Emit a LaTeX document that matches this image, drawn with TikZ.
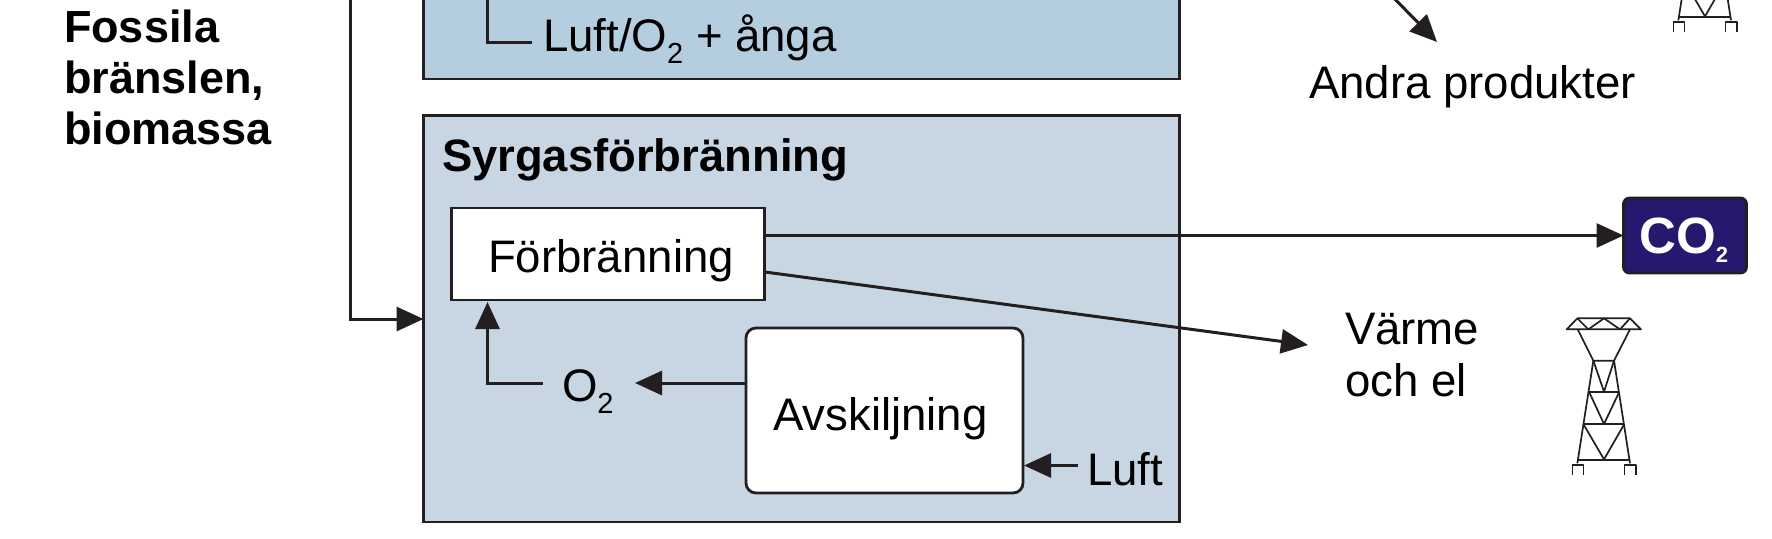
\documentclass[tikz,border=0pt]{standalone}
\usepackage{fontspec}
\setmainfont{Liberation Sans}
\usetikzlibrary{arrows.meta}
\definecolor{ink}{HTML}{231F20}
\definecolor{upperblue}{HTML}{B5CEDF}
\definecolor{lowerblue}{HTML}{C7D6E2}
\definecolor{coblue}{HTML}{27186F}
\newcommand{\subtwo}{\raisebox{-6.2pt}{\fontsize{14.5pt}{14.5pt}\selectfont 2}}
\tikzset{
  txt/.style={inner sep=0pt,outer sep=0pt,anchor=base west,text=black,font=\fontsize{22.8pt}{26pt}\selectfont},
  boldtxt/.style={txt,font=\fontsize{22.7pt}{25.5pt}\selectfont\bfseries},
  panel/.style={draw=ink,line width=1.4pt,inner sep=0pt,outer sep=0pt,anchor=north west},
  whitebox/.style={panel,fill=white},
  conn/.style={draw=ink,line width=1.5pt,-{Triangle[length=13.5pt,width=12pt]}},
  plainline/.style={draw=ink,line width=1.5pt},
  towerline/.style={draw=ink,line width=0.85pt,line join=round},
  tower/.pic={
    \begin{scope}[x=0.16667pt,y=-0.16667pt,towerline]
      \draw (112,55) -- (270,55) -- (303,88) -- (80,88) -- cycle;
      \draw (112,55) -- (145,88) -- (192,55) -- (240,88) -- (270,55);
      \draw (113,88) -- (160,182) -- (222,182) -- (270,88);
      \draw (160,182) -- (112,490);
      \draw (222,182) -- (270,490);
      \draw (147,275) -- (238,275);
      \draw (130,372) -- (253,372);
      \draw (112,480) -- (270,480);
      \draw (160,182) -- (192,275) -- (222,182);
      \draw (147,275) -- (192,372) -- (238,275);
      \draw (130,372) -- (192,478) -- (253,372);
      \draw (97,525) -- (97,495) -- (130,495) -- (130,525);
      \draw (253,525) -- (253,495) -- (287,495) -- (287,525);
    \end{scope}
  }
}
\begin{document}
\begin{tikzpicture}[x=0.5pt,y=-0.5pt]
\useasboundingbox (0,0) rectangle (1772,538);
\clip (0,0) rectangle (1772,538);
\fill[white] (0,0) rectangle (1772,538);

% panels
\node[panel,fill=upperblue,minimum width=378pt,minimum height=49.5pt] (upper) at (423.5,-20) {};
\node[panel,fill=lowerblue,minimum width=378pt,minimum height=203.25pt] (lower) at (423.5,115.5) {};
\node[whitebox,minimum width=156.5pt,minimum height=46pt] (forb) at (451.5,208) {};
\node[whitebox,rounded corners=5pt,minimum width=138.5pt,minimum height=82.5pt] (avsk) at (746,328) {};
\node[panel,fill=coblue,rounded corners=3pt,minimum width=61.5pt,minimum height=37.5pt] (co2box) at (1623.5,198) {};

% labels
\node[boldtxt,align=left,anchor=north west,font=\fontsize{22.5pt}{25.5pt}\selectfont\bfseries] (fossil) at (64,10) {Fossila\\bränslen,\\biomassa};
\node[txt] (luftoa) at (543,51) {Luft/O\subtwo{} + ånga};
\node[boldtxt] (syrgas) at (442,171) {Syrgasförbränning};
\node[txt] (forbtxt) at (488,272) {Förbränning};
\node[txt] (otwo) at (562,401) {O\subtwo};
\node[txt] (avsktxt) at (773,430) {Avskiljning};
\node[txt] (luft) at (1087,485) {Luft};
\node[txt,align=left,anchor=north west] (varme) at (1345,313) {Värme\\och el};
\node[txt] (andra) at (1309,98) {Andra produkter};
\node[inner sep=0pt,anchor=base west,text=white,font=\fontsize{25.5pt}{25.5pt}\selectfont\bfseries] (cotxt) at (1639,253) {CO\raisebox{-4.5pt}{\fontsize{11pt}{11pt}\selectfont 2}};

% free connector ends
\coordinate (feedtop) at (350,-10);
\coordinate (feedmid) at (350,319);
\coordinate (lufttop) at (487.5,-10);
\coordinate (luftend) at (532,42);
\coordinate (heatout) at (765,272);
\coordinate (heattip) at (1308,345);
\coordinate (prodstart) at (1386,-10);
\coordinate (prodtip) at (1437,42);
\coordinate (otwoend) at (543,383);
\coordinate (otwotip) at (635,383);
\coordinate (oupx) at (487.5,383);
\coordinate (oupy) at (487.5,302);
\coordinate (airstart) at (1078,465.5);
\coordinate (airtip) at (1024,465.5);

% connectors
\draw[conn] (feedtop) -- (feedmid) -- (lower.west |- feedmid);
\draw[plainline] (lufttop) |- (luftend);
\draw[conn] (forb.east |- co2box.west) -- (co2box.west);
\draw[conn] (heatout) -- (heattip);
\draw[conn] (prodstart) -- (prodtip);
\draw[conn] (avsk.west |- otwotip) -- (otwotip);
\draw[conn] (otwoend) -- (oupx) -- (oupy);
\draw[conn] (airstart) -- (airtip);

% towers
\pic at (1540,300) {tower};
\pic at (1641,-143) {tower};
\end{tikzpicture}
\end{document}
